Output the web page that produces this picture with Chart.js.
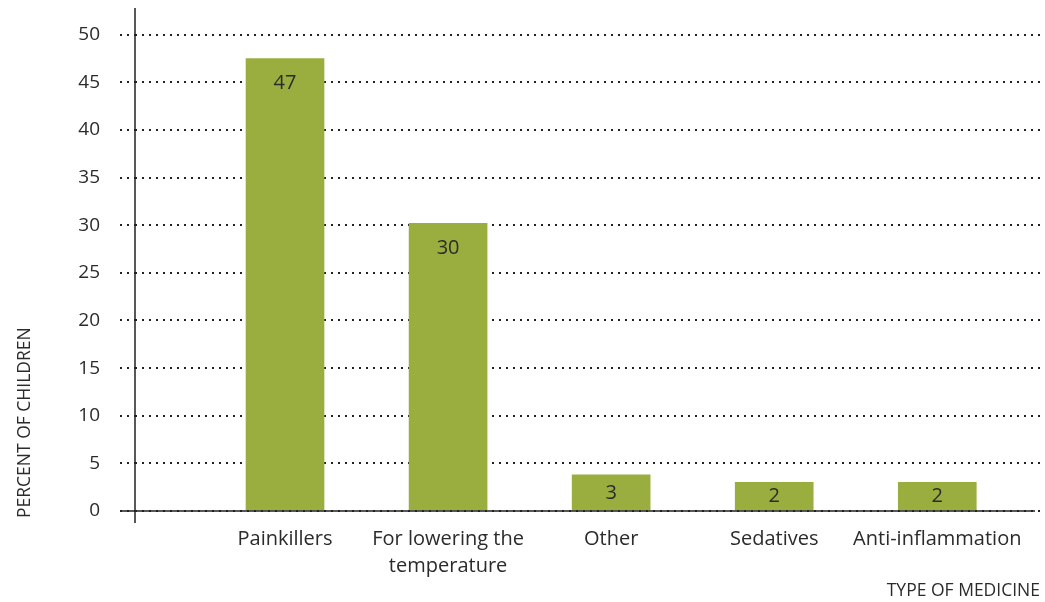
<!DOCTYPE html>
<html>
<head>
<meta charset="utf-8">
<script src="https://cdn.jsdelivr.net/npm/chart.js@4/dist/chart.umd.min.js"></script>
<style>
  html, body { margin: 0; padding: 0; background: #fff; }
  #wrap { width: 1045px; height: 602px; position: relative; }
</style>
</head>
<body>
<div id="wrap"><canvas id="chart"></canvas></div>
<script>
// Data
const categories = ['Painkillers', ['For lowering the', 'temperature'], 'Other', 'Sedatives', 'Anti-inflammation'];
const positions = [1, 2, 3, 4, 5];
const barHeights = [47.5, 30.2, 3.8, 3.0, 3.0];
const printedValues = ['47', '30', '3', '2', '2'];
const yTicks = [0, 5, 10, 15, 20, 25, 30, 35, 40, 45, 50];

const FONT = '"Open Sans", "Noto Sans", sans-serif';
const TEXT = '#2b2b2b';
const GREEN = '#99ae3f';

// axis lines, value labels and axis titles
const extrasPlugin = {
  id: 'extras',
  afterDatasetsDraw(chart) {
    const ctx = chart.ctx;
    const x = chart.scales.x, y = chart.scales.y;
    const base = y.getPixelForValue(0);
    ctx.save();

    // value labels inside bars
    ctx.fillStyle = TEXT;
    ctx.font = '20px ' + FONT;
    ctx.textAlign = 'center';
    ctx.textBaseline = 'middle';
    chart.getDatasetMeta(0).data.forEach((bar, i) => {
      const ly = Math.min(bar.y + 25, (bar.y + base) / 2);
      ctx.fillText(printedValues[i], bar.x, ly);
    });

    // baseline and y axis line
    ctx.strokeStyle = '#222';
    ctx.lineWidth = 1.5;
    ctx.beginPath();
    ctx.moveTo(x.left - 14, base);
    ctx.lineTo(x.right - 5, base);
    ctx.moveTo(x.left, chart.chartArea.top);
    ctx.lineTo(x.left, base + 12);
    ctx.stroke();

    // axis titles
    ctx.font = '17.5px ' + FONT;
    ctx.fillStyle = TEXT;
    ctx.textAlign = 'right';
    ctx.textBaseline = 'middle';
    ctx.fillText('TYPE OF MEDICINE', 1040, 591);

    ctx.translate(25, 518);
    ctx.rotate(-Math.PI / 2);
    ctx.textAlign = 'left';
    ctx.fillText('PERCENT OF CHILDREN', 0, 0);
    ctx.restore();
  }
};

new Chart(document.getElementById('chart'), {
  type: 'bar',
  data: {
    datasets: [{
      data: positions.map((p, i) => ({ x: p, y: barHeights[i] })),
      backgroundColor: GREEN,
      borderWidth: 0,
      barThickness: 78
    }]
  },
  options: {
    responsive: true,
    maintainAspectRatio: false,
    animation: false,
    layout: { padding: { top: 8, right: 5, left: 0, bottom: 0 } },
    plugins: { legend: { display: false }, tooltip: { enabled: false } },
    scales: {
      x: {
        type: 'linear',
        offset: false,
        min: 0.08,
        max: 5.63,
        grid: { display: false, drawTicks: false },
        border: { display: false },
        afterBuildTicks: (scale) => { scale.ticks = positions.map(v => ({ value: v })); },
        afterFit: (scale) => {
          scale.height = 91;
          scale.paddingLeft = 0;
          scale.paddingRight = 0;
        },
        ticks: {
          color: TEXT,
          padding: 15,
          font: { family: FONT, size: 20, lineHeight: 1.33 },
          maxRotation: 0,
          autoSkip: false,
          callback: (v) => categories[positions.indexOf(v)]
        }
      },
      y: {
        min: 0,
        max: 52.8,
        afterBuildTicks: (scale) => { scale.ticks = yTicks.map(v => ({ value: v })); },
        afterFit: (scale) => {
          scale.width = 135;
          scale.paddingTop = 0;
          scale.paddingBottom = 0;
        },
        grid: {
          color: '#222',
          lineWidth: 2,
          tickLength: 15,
          tickColor: '#222',
          tickWidth: 2,
          tickBorderDash: [2, 5]
        },
        border: { display: false, dash: [2, 5] },
        ticks: {
          color: TEXT,
          padding: 20,
          font: { family: FONT, size: 19 }
        }
      }
    }
  },
  plugins: [extrasPlugin]
});
</script>
</body>
</html>
